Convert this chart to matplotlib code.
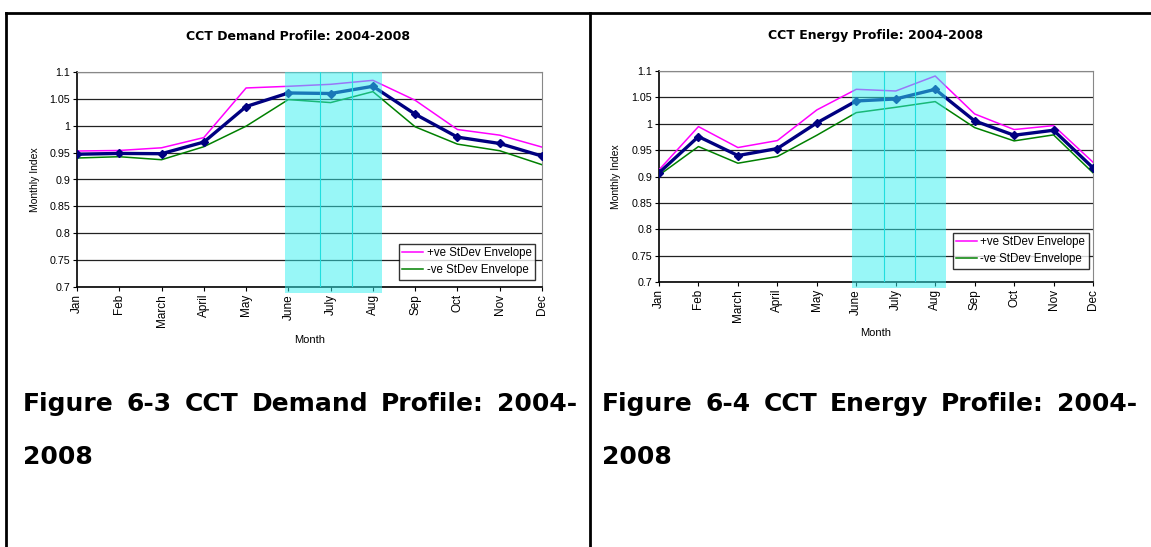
import matplotlib
matplotlib.use('Agg')
import matplotlib.pyplot as plt
import numpy as np

plt.rcParams['font.family'] = ['Liberation Sans', 'DejaVu Sans']

months = ['Jan', 'Feb', 'March', 'April', 'May', 'June', 'July', 'Aug', 'Sep', 'Oct', 'Nov', 'Dec']
yticks = [0.7, 0.75, 0.8, 0.85, 0.9, 0.95, 1.0, 1.05, 1.1]
ytick_labels = ['0.7', '0.75', '0.8', '0.85', '0.9', '0.95', '1', '1.05', '1.1']

# demand profile
demand_mean = [0.947, 0.9485, 0.948, 0.9696, 1.0357, 1.061, 1.060, 1.0734, 1.0215, 0.9788, 0.967, 0.9436]
demand_plus = [0.953, 0.954, 0.959, 0.978, 1.0703, 1.0734, 1.0771, 1.0845, 1.0474, 0.993, 0.9825, 0.9603]
demand_minus = [0.940, 0.9424, 0.9368, 0.961, 0.9992, 1.0487, 1.0431, 1.0635, 0.998, 0.9658, 0.9535, 0.9275]

# energy profile
energy_mean = [0.907, 0.9757, 0.9397, 0.953, 1.0016, 1.0432, 1.047, 1.0653, 1.0054, 0.9782, 0.9877, 0.9164]
energy_plus = [0.9126, 0.9946, 0.9549, 0.9681, 1.0262, 1.0653, 1.0621, 1.0905, 1.0186, 0.989, 0.9965, 0.9271]
energy_minus = [0.9025, 0.9568, 0.9252, 0.9379, 0.9782, 1.0211, 1.0312, 1.042, 0.9927, 0.9675, 0.9789, 0.907]

W, H = 1151, 547
fig = plt.figure(figsize=(W / 100, H / 100), dpi=100)


def px(x, y):
    # pixel position (from top-left) -> figure fraction
    return x / W, 1 - y / H


def profile(rect, mean, plus, minus, span, title, title_xy, month_xy, ylab_x, leg_anchor):
    left, top, right, bottom = rect
    ax = fig.add_axes([left / W, 1 - bottom / H, (right - left) / W, (bottom - top) / H])
    x = np.arange(len(months))
    ax.plot(x, plus, color='#ff00ff', lw=1.1, label='+ve StDev Envelope', zorder=3)
    ax.plot(x, minus, color='#008000', lw=1.1, label='-ve StDev Envelope', zorder=3)
    ax.plot(x, mean, color='#000080', lw=2.4, marker='D', ms=4.5, zorder=4)
    # summer band drawn on top, like the original
    ax.axvspan(span[0], span[1], ymin=-0.03, ymax=1, color='#33f0f0', alpha=0.5,
               lw=0, zorder=5, clip_on=False)
    for v in span[2:]:
        ax.axvline(v, color='#20dede', lw=0.8, zorder=5)
    ax.set_xlim(0, 11)
    ax.set_ylim(0.7, 1.1)
    ax.set_yticks(yticks)
    ax.set_yticklabels(ytick_labels, fontsize=7.7)
    ax.set_xticks(x)
    ax.set_xticklabels(months, rotation=90, fontsize=8.5)
    ax.tick_params(length=3, width=0.8, pad=2)
    ax.grid(axis='y', color='#222222', lw=0.9, zorder=1)
    for s in ['top', 'right']:
        ax.spines[s].set_color('#888888')
    for s in ['left', 'bottom']:
        ax.spines[s].set_color('black')
        ax.spines[s].set_linewidth(1.2)
    leg = ax.legend(loc='lower right', bbox_to_anchor=leg_anchor, fontsize=8.3, frameon=True,
                    fancybox=False, edgecolor='black', handlelength=1.8, handletextpad=0.3,
                    borderpad=0.3, labelspacing=0.45, borderaxespad=0)
    leg.get_frame().set_linewidth(1.0)
    leg.set_zorder(6)
    fig.text(*px(*title_xy), title, fontsize=9, fontweight='bold', ha='center', va='center',
             family='DejaVu Sans')
    fig.text(*px(*month_xy), 'Month', fontsize=8, ha='center', va='center')
    fig.text(*px(ylab_x, (top + bottom) / 2), 'Monthly Index', fontsize=7.5, rotation=90,
             ha='center', va='center')
    return ax


profile((77, 72, 542, 287), demand_mean, demand_plus, demand_minus, (4.92, 7.21, 5.74, 6.5),
        'CCT Demand Profile: 2004-2008', (298, 36), (310, 340), 35, (0.985, 0.033))
profile((659, 71, 1093, 282), energy_mean, energy_plus, energy_minus, (4.89, 7.28, 5.7, 6.48),
        'CCT Energy Profile: 2004-2008', (876, 35), (876, 333), 616, (0.99, 0.062))

# frame lines of the document table
frame = dict(color='black', lw=2, transform=fig.transFigure, clip_on=False)
fig.add_artist(plt.Line2D([6 / W, 1], [1 - 13 / H, 1 - 13 / H], **frame))
fig.add_artist(plt.Line2D([6 / W, 6 / W], [0, 1 - 13 / H], **frame))
fig.add_artist(plt.Line2D([590 / W, 590 / W], [0, 1 - 13 / H], **frame))


def justify(words, x0, x1, y, **kw):
    texts = [fig.text(0, 1 - y / H, w, va='center', ha='left', **kw) for w in words]
    fig.canvas.draw()
    r = fig.canvas.get_renderer()
    widths = [t.get_window_extent(r).width for t in texts]
    gap = (x1 - x0 - sum(widths)) / (len(words) - 1)
    xx = x0
    for t, w in zip(texts, widths):
        t.set_x(xx / W)
        xx += w + gap


cap = dict(fontsize=18, fontweight='bold', family='DejaVu Sans')
justify('Figure 6-3 CCT Demand Profile: 2004-'.split(), 23, 577, 404, **cap)
fig.text(23 / W, 1 - 457 / H, '2008', va='center', **cap)
justify('Figure 6-4 CCT Energy Profile: 2004-'.split(), 602, 1137, 404, **cap)
fig.text(602 / W, 1 - 457 / H, '2008', va='center', **cap)

fig.savefig('out.png', dpi=100)
